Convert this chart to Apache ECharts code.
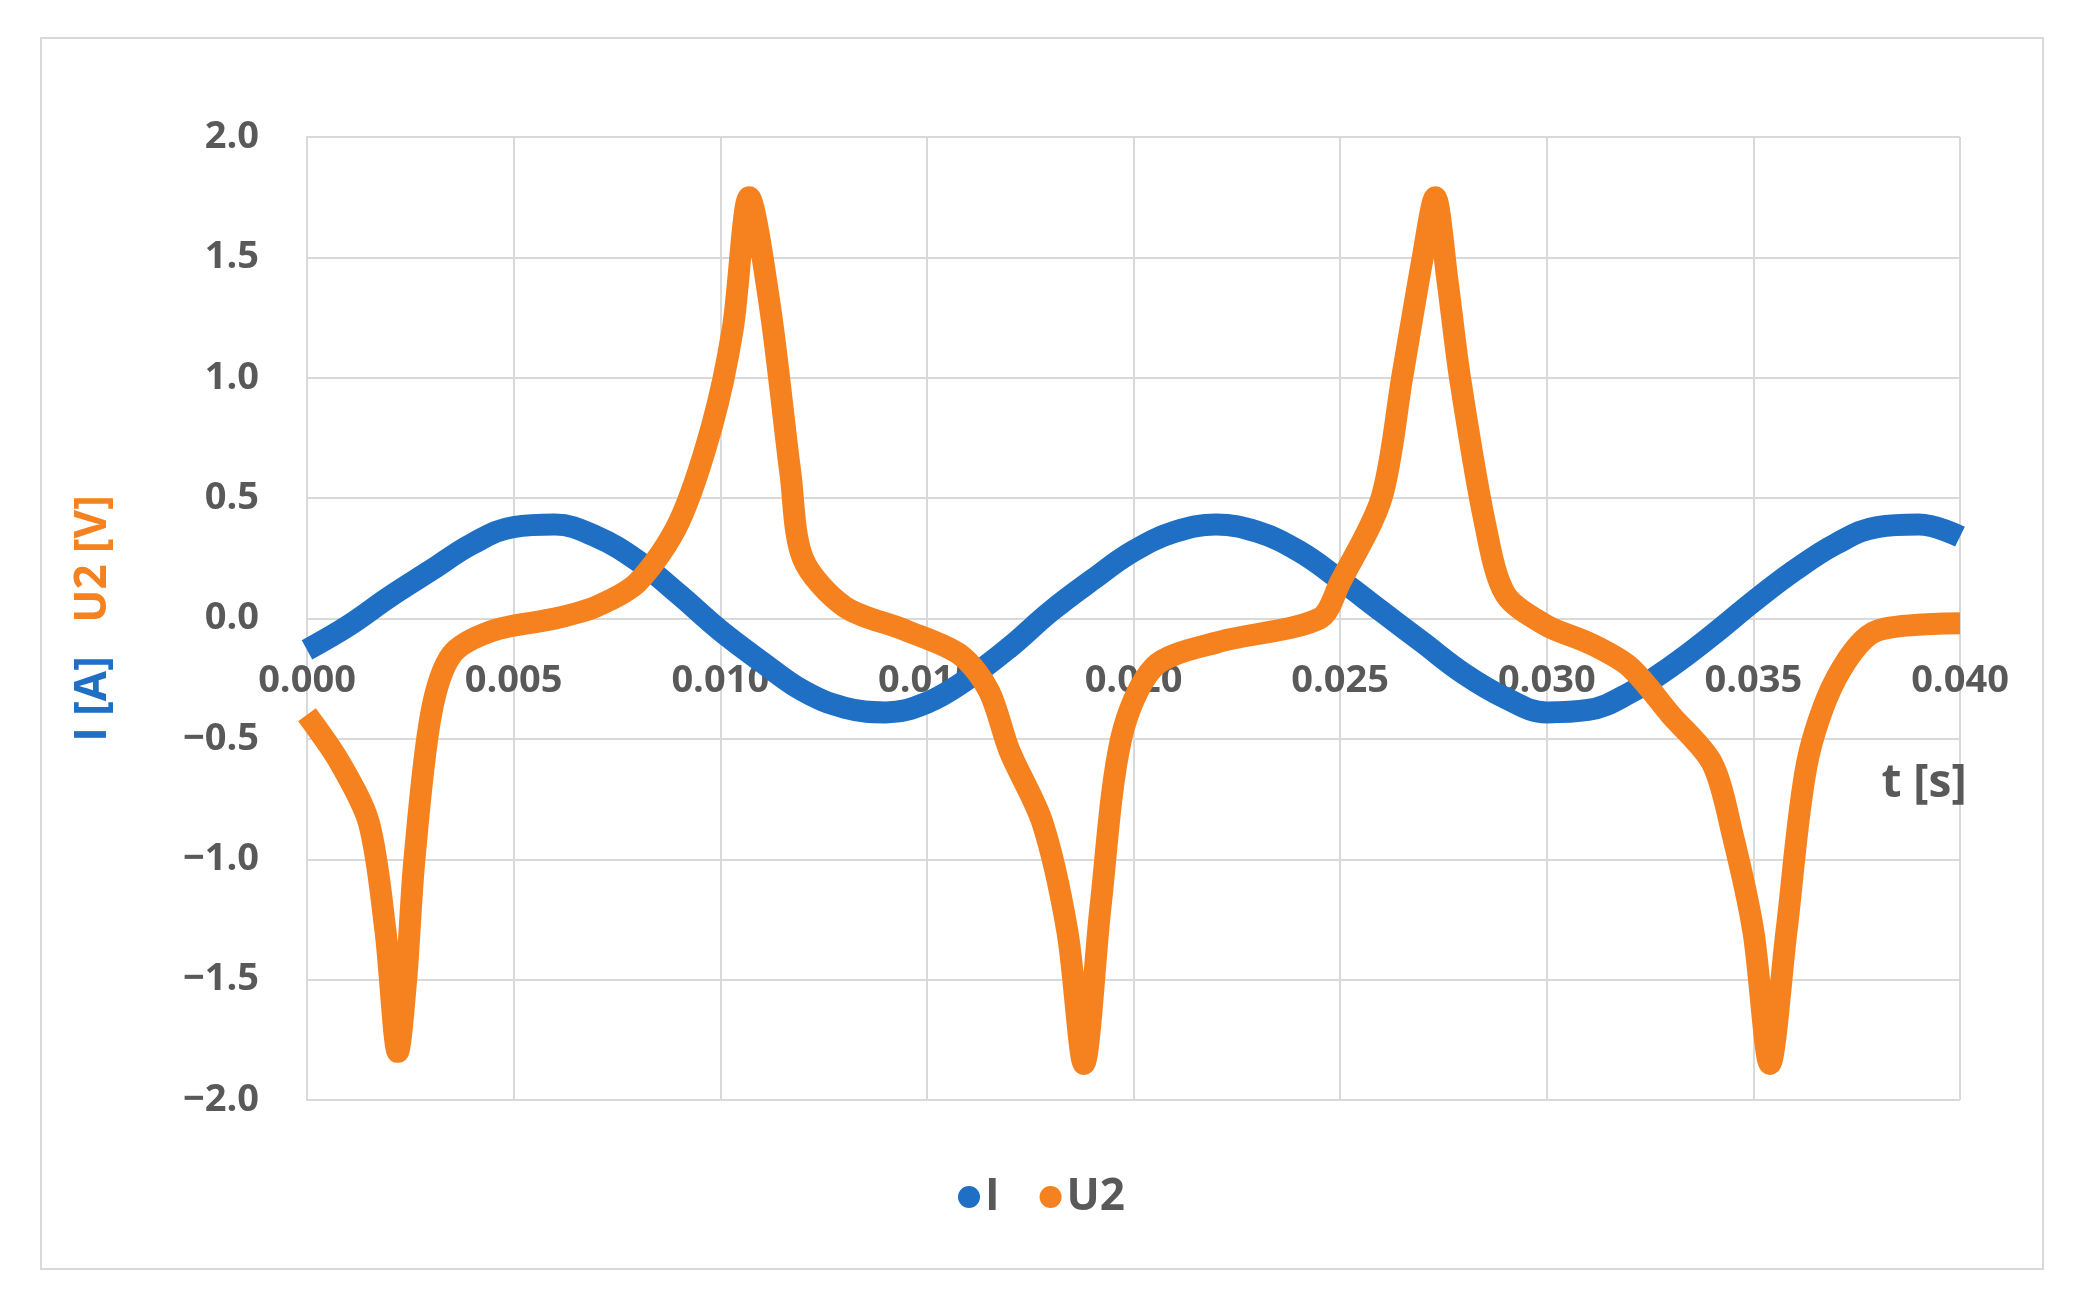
<!DOCTYPE html>
<html><head><meta charset="utf-8">
<script src="https://cdn.jsdelivr.net/npm/echarts@6/dist/echarts.min.js"></script>
<style>html,body{margin:0;padding:0;background:#fff}#c{width:2083px;height:1314px}</style>
</head><body><div id="c"></div>
<script>
const tI = [0,0.001,0.002,0.003,0.004,0.005,0.006,0.007,0.008,0.009,0.010,0.011,0.012,0.013,0.014,0.015,0.016,0.017,0.018,0.019,0.020,0.021,0.022,0.023,0.024,0.025,0.026,0.027,0.028,0.029,0.030,0.031,0.032,0.033,0.034,0.035,0.036,0.037,0.038,0.039,0.040];
const vI = [-0.13,-0.03,0.09,0.2,0.31,0.38,0.39,0.34,0.24,0.1,-0.05,-0.18,-0.3,-0.37,-0.39,-0.35,-0.25,-0.12,0.03,0.16,0.28,0.36,0.39,0.36,0.28,0.16,0.03,-0.1,-0.23,-0.33,-0.39,-0.38,-0.31,-0.2,-0.07,0.07,0.2,0.31,0.38,0.39,0.34];
const tU = [0,0.0008,0.0015,0.0019,0.0022,0.0024,0.0026,0.003,0.0035,0.0045,0.006,0.007,0.008,0.009,0.0098,0.0103,0.0107,0.0112,0.0117,0.012,0.013,0.0145,0.0158,0.0165,0.017,0.0178,0.0184,0.0188,0.0192,0.0197,0.0205,0.022,0.0245,0.025,0.026,0.0265,0.027,0.0273,0.0276,0.0279,0.0285,0.029,0.030,0.031,0.032,0.033,0.034,0.0345,0.035,0.0354,0.0358,0.0363,0.037,0.038,0.040];
const vU = [-0.4,-0.6,-0.85,-1.3,-1.8,-1.5,-1.0,-0.4,-0.15,-0.05,0,0.05,0.15,0.4,0.8,1.2,1.75,1.3,0.6,0.25,0.05,-0.05,-0.15,-0.3,-0.55,-0.85,-1.3,-1.85,-1.2,-0.5,-0.2,-0.1,0,0.15,0.5,1.0,1.5,1.75,1.4,1.0,0.4,0.1,-0.03,-0.1,-0.2,-0.4,-0.6,-0.9,-1.3,-1.85,-1.3,-0.6,-0.25,-0.05,-0.02];
const blue='#1f6fc5', orange='#f5821f', txt='#595959';
const chart = echarts.init(document.getElementById('c'));
chart.setOption({
  backgroundColor:'#fff',
  graphic:[
    {type:'rect',shape:{x:41,y:38,width:2002,height:1231},style:{fill:'none',stroke:'#d9d9d9',lineWidth:2}},
    {type:'text',x:1924,y:784,z:10,style:{text:'t [s]',fontSize:46,fontWeight:'bold',fill:txt,fontFamily:'Open Sans',align:'center',verticalAlign:'middle'}}
  ],
  grid:{left:307,right:123,top:137,bottom:214},
  legend:{bottom:90,left:'center',itemWidth:22,itemHeight:22,itemGap:40,
    textStyle:{fontSize:44,fontWeight:'bold',color:txt,fontFamily:'Open Sans'},
    data:[{name:'I',icon:'circle'},{name:'U2',icon:'circle'}]},
  xAxis:{type:'value',min:0,max:0.04,interval:0.005,offset:-481.5,
    axisLine:{lineStyle:{color:'#d9d9d9',width:2}},axisTick:{show:false},
    axisLabel:{fontSize:38,fontWeight:'bold',color:txt,fontFamily:'Open Sans',margin:44,formatter:v=>v.toFixed(3)},
    splitLine:{show:true,lineStyle:{color:'#d9d9d9',width:2}}},
  yAxis:{type:'value',min:-2,max:2,interval:0.5,
    name:'{a|I [A]}          {b|U2 [V]}',nameLocation:'middle',nameGap:192,
    nameTextStyle:{rich:{a:{fontSize:44,fontWeight:'bold',color:blue,fontFamily:'Open Sans'},b:{fontSize:44,fontWeight:'bold',color:orange,fontFamily:'Open Sans'}}},
    axisLine:{show:true,lineStyle:{color:'#d9d9d9',width:2}},axisTick:{show:false},
    axisLabel:{fontSize:38,fontWeight:'bold',color:txt,fontFamily:'Open Sans',margin:48,formatter:v=>v.toFixed(1).replace('-','\u2212')},
    splitLine:{lineStyle:{color:'#d9d9d9',width:2}}},
  series:[
    {name:'I',type:'line',smooth:0.4,showSymbol:false,color:blue,lineStyle:{width:22,color:blue},data:tI.map((t,i)=>[t,vI[i]]),z:2},
    {name:'U2',type:'line',smooth:0.3,showSymbol:false,color:orange,lineStyle:{width:22,color:orange},data:tU.map((t,i)=>[t,vU[i]]),z:3}
  ]
});
</script></body></html>
